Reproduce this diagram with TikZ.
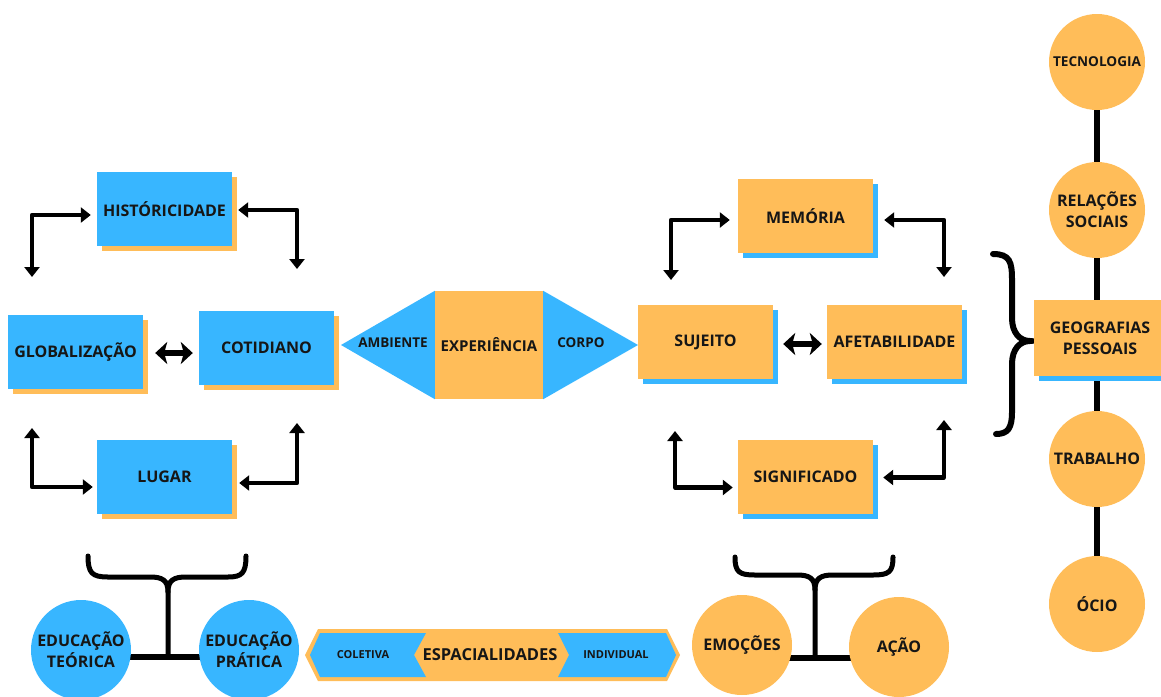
\documentclass[tikz,border=0pt]{standalone}
\usepackage{fontspec}
\setmainfont{Open Sans}
\usetikzlibrary{arrows.meta,shadows,backgrounds,calc}
\definecolor{cblue}{HTML}{38B6FF}
\definecolor{corange}{HTML}{FFBD59}
\definecolor{ink}{HTML}{161616}

\begin{document}
\begin{tikzpicture}[x=1pt,y=-1pt,
  every node/.style={text=ink, inner sep=0pt, align=center},
  lbl/.style={font=\fontsize{#1}{\dimexpr #1pt*13/10\relax}\selectfont\bfseries},
  lbl/.default=16,
  bluebox/.style={fill=cblue, minimum width=135pt, minimum height=74pt,
    drop shadow={fill=corange, opacity=1, shadow xshift=5pt, shadow yshift=-5pt}, lbl},
  orangebox/.style={fill=corange, minimum width=135pt, minimum height=74pt,
    drop shadow={fill=cblue, opacity=1, shadow xshift=5pt, shadow yshift=-5pt}, lbl},
  ocirc/.style={circle, fill=corange, minimum size=96pt},
  bcirc/.style={circle, fill=cblue, minimum size=100pt},
  dbl/.style={line width=4.2pt, line join=round,
    {Triangle[width=15pt,length=10pt]}-{Triangle[width=15pt,length=10pt]}},
  swap/.style={line width=6pt,
    {Stealth[width=22pt,length=12pt,inset=3pt]}-{Stealth[width=22pt,length=12pt,inset=3pt]}},
  stroke/.style={line width=5pt, line cap=round, draw=black},
]
\useasboundingbox (0,0) rectangle (1161,696);

% ---- left cluster
\node[bluebox] (hist)  at (164.5,209) {HISTÓRICIDADE};
\node[bluebox] (glob)  at (75.5,352)  {GLOBALIZAÇÃO};
\node[bluebox] (cotid) at (266.5,348) {COTIDIANO};
\node[bluebox] (lugar) at (164.5,477) {LUGAR};

\coordinate (hTL) at (32,277);
\coordinate (hTR) at (297,269);
\coordinate (hBL) at (32,428);
\coordinate (hBR) at (297,423);
\draw[dbl] ($(hist.west)+(-6,6)$) -| (hTL);
\draw[dbl] ($(hist.east)+(6,1)$) -| (hTR);
\draw[dbl] ($(lugar.west)+(-4,10)$) -| (hBL);
\draw[dbl] ($(lugar.east)+(7,6)$) -| (hBR);
\draw[swap] ($(glob.east)+(12,1)$) -- ($(cotid.west)+(-6,5)$);

% ---- central hexagon
\node[fill=corange, minimum width=108pt, minimum height=108pt, lbl=15] (exp) at (489,345) {EXPERIÊNCIA};
\coordinate (ambTip) at (341,345);
\coordinate (corTip) at (638,345);
\node[lbl=13.5] (amb) at (393,343) {AMBIENTE};
\node[lbl=13.5] (cor) at (581,343) {CORPO};

% ---- right cluster
\node[orangebox] (mem)  at (805.5,216) {MEMÓRIA};
\node[orangebox] (suj)  at (705.5,342) {SUJEITO};
\node[orangebox] (afet) at (894.5,342) {AFETABILIDADE};
\node[orangebox] (sign) at (805.5,476.5) {SIGNIFICADO};

\coordinate (mTL) at (671,280);
\coordinate (mTR) at (944,277);
\coordinate (mBL) at (675,431);
\coordinate (mBR) at (944,420);
\draw[dbl] ($(mem.west)+(-8,4)$) -| (mTL);
\draw[dbl] ($(mem.east)+(11,4)$) -| (mTR);
\draw[dbl] ($(sign.west)+(-5,11)$) -| (mBL);
\draw[dbl] ($(sign.east)+(10,1)$) -| (mBR);
\draw[swap] ($(suj.east)+(10,2)$) -- ($(afet.west)+(-5,2)$);

% ---- right column
\node[ocirc, lbl=13.6] (tec) at (1097,62)  {TECNOLOGIA};
\node[ocirc, lbl=16]   (rel) at (1097,210) {RELAÇÕES\\SOCIAIS};
\node[fill=corange, minimum width=132pt, minimum height=76pt, lbl=16,
    drop shadow={fill=cblue, opacity=1, shadow xshift=5pt, shadow yshift=-5pt}] (geo) at (1100,338) {GEOGRAFIAS\\PESSOAIS};
\node[ocirc, lbl=16]   (trab) at (1097,459) {TRABALHO};
\node[ocirc, lbl=16]   (ocio) at (1097,604) {ÓCIO};

% ---- bottom left
\node[bcirc, lbl=16] (teo) at (81,650)  {EDUCAÇÃO\\TEÓRICA};
\node[bcirc, lbl=16] (pra) at (249,650) {EDUCAÇÃO\\PRÁTICA};

% ---- bottom banner
\node[lbl=16.5] (esp) at (490,655) {ESPACIALIDADES};
\node[lbl=11]   (col) at (363,655) {COLETIVA};
\node[lbl=11]   (ind) at (616,655) {INDIVIDUAL};

% ---- bottom right
\node[ocirc, minimum size=100pt, lbl=16] (emo)  at (742,645) {EMOÇÕES};
\node[ocirc, minimum size=100pt, lbl=16] (acao) at (899,647) {AÇÃO};

\begin{pgfonlayer}{background}
  % central triangles
  \fill[cblue] (ambTip) -- (exp.north west) -- (exp.south west) -- cycle;
  \fill[cblue] (corTip) -- (exp.north east) -- (exp.south east) -- cycle;

  % column spine
  \draw[line width=6pt] (tec) -- (ocio);

  % curly brace
  \draw[stroke, line width=6pt]
    (993,254) .. controls (1010,254) and (1012,262) .. (1012,280) -- (1012,318)
    .. controls (1012,333) and (1020,341) .. (1030,341)
    .. controls (1020,341) and (1012,349) .. (1012,364) -- (1012,412)
    .. controls (1012,428) and (1008,434) .. (996,434);

  % bottom-left bracket
  \draw[stroke]
    (88,556) .. controls (88,573) and (92,577) .. (108,577) -- (150,577)
    .. controls (162,577) and (168,580) .. (168,592) -- (168,657);
  \draw[stroke]
    (246,556) .. controls (246,573) and (242,577) .. (228,577) -- (186,577)
    .. controls (174,577) and (168,580) .. (168,592);
  \draw[line width=6pt] ($(teo.center)+(0,7)$) -- ($(pra.center)+(0,7)$);

  % bottom-right bracket
  \draw[stroke]
    (735,557) .. controls (735,572) and (739,575) .. (755,575) -- (797,575)
    .. controls (809,575) and (815,578) .. (815,590) -- (815,658);
  \draw[stroke]
    (893,557) .. controls (893,572) and (889,575) .. (873,575) -- (833,575)
    .. controls (821,575) and (815,578) .. (815,590);
  \draw[line width=6pt] ($(emo.center)+(0,13)$) -- ($(acao.center)+(0,11)$);

  % banner
  \fill[corange] (318,629) -- (667,629) -- (680,655) -- (667,681) -- (318,681) -- (305,655) -- cycle;
  \fill[cblue] (320,633) -- (426,633) -- (414,655) -- (426,677) -- (320,677) -- (310,655) -- cycle;
  \fill[cblue] (558,633) -- (666,633) -- (676,655) -- (666,677) -- (558,677) -- (569,655) -- cycle;
\end{pgfonlayer}
\end{tikzpicture}
\end{document}
